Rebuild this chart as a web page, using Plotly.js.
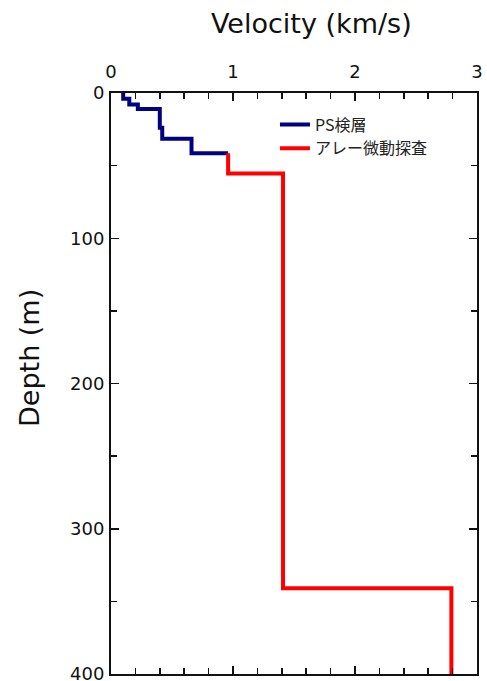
<!DOCTYPE html>
<html>
<head>
<meta charset="utf-8">
<script src="https://cdn.plot.ly/plotly-3.0.1.min.js"></script>
<style>html,body{margin:0;padding:0;background:#fff;}</style>
</head>
<body>
<div id="chart" style="width:487px;height:681px;"></div>
<script>
// PS logging (blue) step profile
const psVelocity = [0.10, 0.10, 0.15, 0.15, 0.22, 0.22, 0.40, 0.40, 0.42, 0.42, 0.66, 0.66, 0.96];
const psDepth    = [0,    4,    4,    8,    8,    11,   11,   24,   24,   31.5, 31.5, 41.5, 41.5];
// Array microtremor (red) step profile
const arrVelocity = [0.96, 0.96, 1.41, 1.41, 2.79, 2.79];
const arrDepth    = [41.5, 55.5, 55.5, 341,  341,  400];
const seriesNames = ['PS検層', 'アレー微動探査'];
const xTitle = 'Velocity (km/s)';
const yTitle = 'Depth (m)';

const font = '"DejaVu Sans", "Noto Sans CJK JP", sans-serif';
const cjkFont = '"Noto Sans CJK JP", "DejaVu Sans", sans-serif';

const traces = [
  {x: psVelocity, y: psDepth, name: seriesNames[0], mode: 'lines',
   line: {color: '#000080', width: 4}},
  {x: arrVelocity, y: arrDepth, name: seriesNames[1], mode: 'lines',
   line: {color: '#ff0000', width: 4}}
];

const layout = {
  width: 487, height: 681,
  margin: {l: 111, r: 10, t: 93, b: 7},
  paper_bgcolor: '#fff', plot_bgcolor: '#fff',
  font: {family: font, color: '#111', size: 18},
  showlegend: true,
  legend: {x: 0.448, y: 0.975, xanchor: 'left', yanchor: 'top',
           bgcolor: 'rgba(0,0,0,0)', font: {size: 16, family: cjkFont, color: '#222'},
           tracegroupgap: 0, itemwidth: 30},
  xaxis: {
    side: 'top', range: [0, 3], dtick: 1, tick0: 0,
    ticks: 'inside', ticklen: 8, tickwidth: 1.5, tickcolor: '#111',
    minor: {dtick: 0.2, ticks: 'inside', ticklen: 6, tickwidth: 1.5, tickcolor: '#111'},
    showline: true, linecolor: '#111', linewidth: 2, mirror: 'ticks',
    showgrid: false, zeroline: false,
    tickfont: {size: 18, family: font},
    ticklabelstandoff: 6,
    ticklabeloverflow: 'allow'
  },
  yaxis: {
    autorange: false, range: [400, 0], dtick: 100, tick0: 0,
    ticks: 'inside', ticklen: 8, tickwidth: 1.5, tickcolor: '#111',
    minor: {dtick: 50, ticks: 'inside', ticklen: 6, tickwidth: 1.5, tickcolor: '#111'},
    showline: true, linecolor: '#111', linewidth: 2, mirror: 'ticks',
    showgrid: false, zeroline: false,
    tickfont: {size: 18, family: font},
    ticklabelstandoff: 1,
    ticklabeloverflow: 'allow'
  },
  annotations: [
    {text: xTitle, xref: 'paper', yref: 'paper', x: (311 - 111) / 366, y: 1 + (93 - 24) / 581,
     xanchor: 'center', yanchor: 'middle', showarrow: false,
     font: {size: 27, family: font, color: '#111'}},
    {text: yTitle, xref: 'paper', yref: 'paper', x: -(111 - 29) / 366, y: 1 - (358 - 93) / 581,
     xanchor: 'center', yanchor: 'middle', showarrow: false, textangle: -90,
     font: {size: 27, family: font, color: '#111'}}
  ]
};

Plotly.newPlot('chart', traces, layout, {displayModeBar: false, staticPlot: true});
</script>
</body>
</html>
